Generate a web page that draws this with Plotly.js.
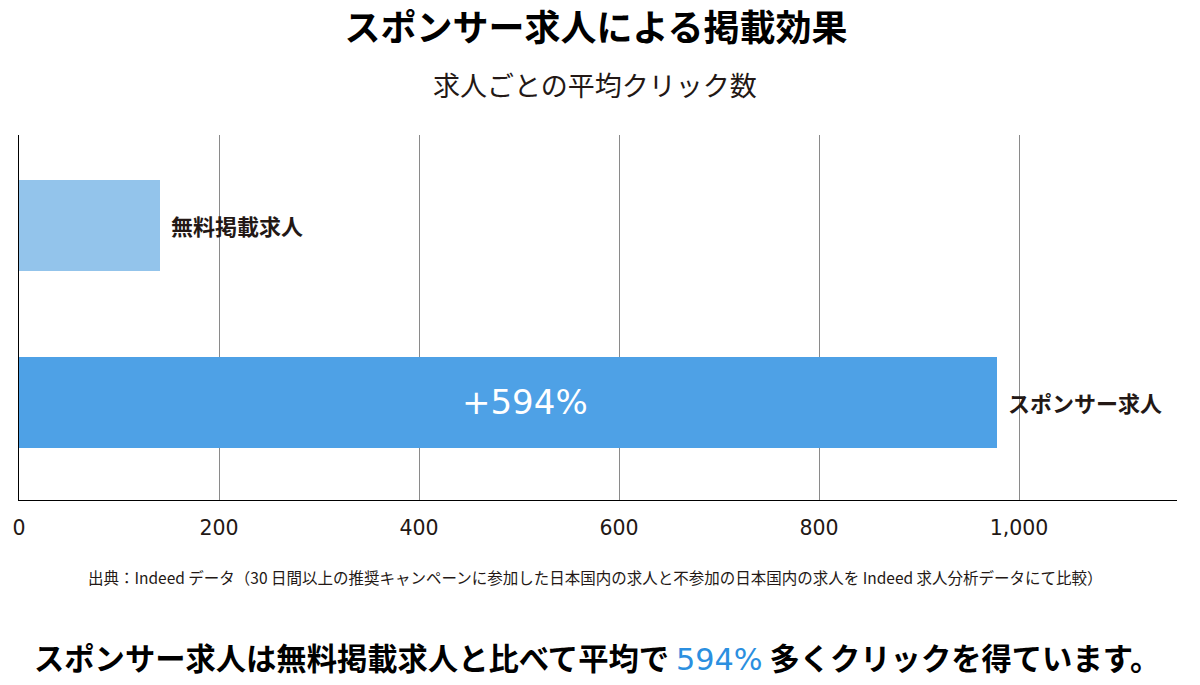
<!DOCTYPE html>
<html>
<head>
<meta charset="utf-8">
<script src="https://cdn.plot.ly/plotly-3.0.1.min.js"></script>
<style>
  html, body { margin: 0; padding: 0; background: #fff; }
  #chart { width: 1200px; height: 685px; }
</style>
</head>
<body>
<div id="chart"></div>
<script>
// Data
const categories = ["スポンサー求人", "無料掲載求人"];
const clicks = [978, 141];
const barColors = ["#4ea1e6", "#93c4eb"];
const increaseLabel = "+594%";
const xTickValues = [0, 200, 400, 600, 800, 1000];
const xTickLabels = ["0", "200", "400", "600", "800", "1,000"];

const FONT = '"Noto Sans CJK JP", "Noto Sans", sans-serif';
const NUMFONT = '"DejaVu Sans", sans-serif';
const TEXT = '#231815';

// plot area geometry (for paper-coordinate placement of free text)
const PLOT_L = 19, PLOT_W = 1158, PLOT_B = 500, PLOT_H = 365;
const px = v => (v - PLOT_L) / PLOT_W;
const py = v => (PLOT_B - v) / PLOT_H;

const trace = {
  type: 'bar',
  orientation: 'h',
  x: clicks,
  y: [0, 1],
  width: 0.514,
  marker: { color: barColors, line: { width: 0 } },
  hoverinfo: 'none'
};

const annotations = [];
categories.forEach((c, i) => {
  annotations.push({
    x: clicks[i], y: i, xref: 'x', yref: 'y',
    text: '<b>' + c + '</b>',
    showarrow: false, xanchor: 'left', yanchor: 'middle', xshift: 9,
    font: { family: FONT, size: 22, color: TEXT }
  });
});
annotations.push({
  x: clicks[0] / 2 + 17, y: 0, xref: 'x', yref: 'y',
  text: increaseLabel, showarrow: false, xanchor: 'center', yanchor: 'middle',
  font: { family: NUMFONT, size: 34, color: '#ffffff' }
});
annotations.push({
  x: px(595), y: py(85), xref: 'paper', yref: 'paper',
  text: '求人ごとの平均クリック数', showarrow: false, xanchor: 'center', yanchor: 'middle',
  font: { family: FONT, size: 27, color: TEXT }
});
annotations.push({
  x: px(595), y: py(577), xref: 'paper', yref: 'paper',
  text: '出典：Indeed データ（30 日間以上の推奨キャンペーンに参加した日本国内の求人と不参加の日本国内の求人を Indeed 求人分析データにて比較）',
  showarrow: false, xanchor: 'center', yanchor: 'middle',
  font: { family: FONT, size: 15.5, color: TEXT }
});
annotations.push({
  x: px(597), y: py(657), xref: 'paper', yref: 'paper',
  text: '<b>スポンサー求人は無料掲載求人と比べて平均で </b><span style="color:#2b8fe0;font-family:\'DejaVu Sans\'">594%</span><b> 多くクリックを得ています。</b>',
  showarrow: false, xanchor: 'center', yanchor: 'middle',
  font: { family: FONT, size: 30.3, color: '#000000' }
});

const layout = {
  width: 1200, height: 685,
  margin: { l: 19, r: 23, t: 135, b: 185, pad: 0 },
  paper_bgcolor: '#ffffff', plot_bgcolor: '#ffffff',
  showlegend: false,
  title: {
    text: '<b>スポンサー求人による掲載効果</b>',
    x: 596 / 1200, xref: 'container', xanchor: 'center',
    y: 1 - 28 / 685, yref: 'container', yanchor: 'middle',
    font: { family: FONT, size: 36, color: '#000000' }
  },
  xaxis: {
    range: [0, 1158],
    tickvals: xTickValues, ticktext: xTickLabels,
    showgrid: true, gridcolor: '#8a8a8a', gridwidth: 1,
    zeroline: false,
    showline: true, linecolor: '#000000', linewidth: 1.2,
    ticks: '', ticklabelstandoff: 9,
    tickfont: { family: NUMFONT, size: 20.5, color: TEXT },
    fixedrange: true
  },
  yaxis: {
    range: [-0.551, 1.511],
    showticklabels: false, showgrid: false, zeroline: false,
    showline: true, linecolor: '#000000', linewidth: 1.2,
    ticks: '', fixedrange: true
  },
  annotations: annotations
};

Plotly.newPlot('chart', [trace], layout, { displayModeBar: false, staticPlot: true });
</script>
</body>
</html>
